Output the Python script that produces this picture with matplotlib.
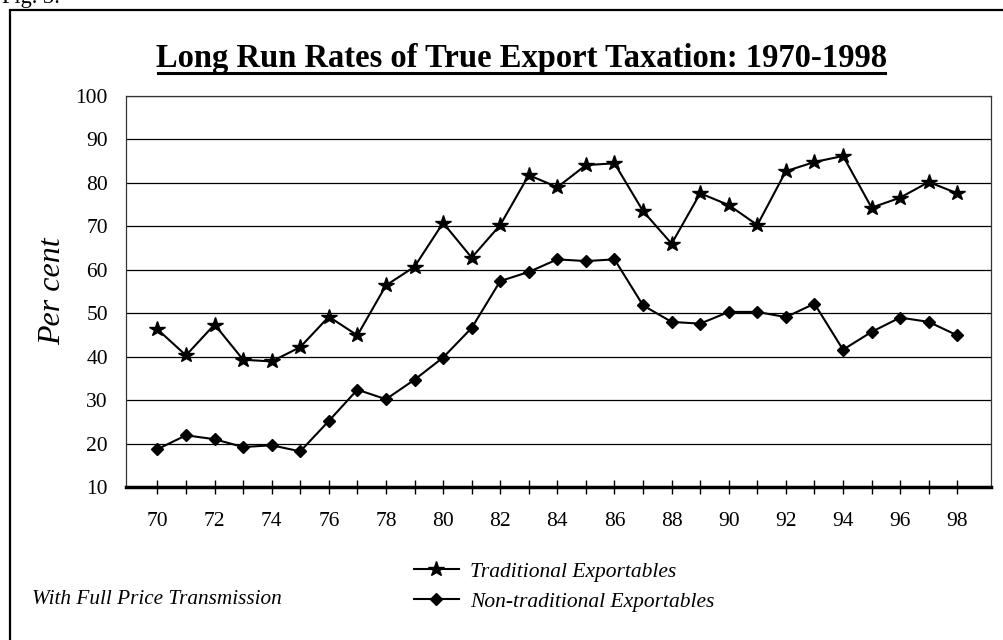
import numpy as np
import matplotlib.pyplot as plt
from matplotlib.patches import Rectangle
from matplotlib.lines import Line2D

# years 1970-1998 (two-digit labels as on the chart)
years = np.arange(70, 99)
traditional = [46.3, 40.3, 47.4, 39.3, 38.9, 42.2, 49.2, 44.9, 56.4, 60.7,
               70.8, 62.8, 70.3, 81.8, 79.0, 84.1, 84.5, 73.5, 66.0, 77.6,
               74.9, 70.3, 82.7, 84.8, 86.2, 74.3, 76.6, 80.2, 77.6]
non_traditional = [18.7, 21.9, 21.0, 19.2, 19.6, 18.2, 25.2, 32.4, 30.2, 34.7,
                   39.8, 46.6, 57.4, 59.5, 62.4, 62.0, 62.4, 51.8, 48.0, 47.6,
                   50.3, 50.3, 49.1, 52.2, 41.6, 45.7, 49.0, 48.0, 44.9]
yticks = np.arange(10, 101, 10)

plt.rcParams['font.family'] = ['Liberation Serif', 'DejaVu Serif']

W, H = 1004, 640
fig = plt.figure(figsize=(W / 100, H / 100), dpi=100)

# outer frame (left and top edges visible, rest runs off the page)
fig.patches.append(Rectangle((10 / W, -0.1), 1.2, 1 - 10 / H + 0.1,
                             transform=fig.transFigure, fill=False,
                             edgecolor='black', linewidth=1.6))
fig.text(2 / W, 1 - 3 / H, 'Fig. 3:', fontsize=16, ha='left', va='baseline')

ax = fig.add_axes([126 / W, 1 - 487 / H, (991 - 126) / W, (487 - 96) / H])

ax.plot(years, traditional, color='black', lw=1.5, marker='*', ms=11.5,
        label='Traditional Exportables')
ax.plot(years, non_traditional, color='black', lw=1.5, marker='D', ms=6.3,
        label='Non-traditional Exportables')

ax.set_xlim(68.9, 99.18)
ax.set_ylim(10, 100)
ax.set_yticks(yticks)
ax.set_xticks(years)
ax.set_xticklabels([str(y) if y % 2 == 0 else '' for y in years])
ax.tick_params(axis='y', length=0, pad=13, labelsize=15.5)
ax.tick_params(axis='x', direction='inout', length=10, width=1, pad=13, labelsize=15.5)
ax.yaxis.grid(True, color='black', lw=0.9)
ax.set_axisbelow(True)
for s in ['top', 'right', 'left']:
    ax.spines[s].set_linewidth(0.9)
    ax.spines[s].set_color('#333333')
ax.spines['bottom'].set_linewidth(2.5)

ax.set_ylabel('Per cent', fontsize=23, style='italic', labelpad=6)

fig.text(521.5 / W, 1 - 66.7 / H, 'Long Run Rates of True Export Taxation: 1970-1998',
         fontsize=23.5, fontweight='bold', ha='center', va='baseline')
fig.add_artist(Line2D([158 / W, 885 / W], [1 - 72.5 / H, 1 - 72.5 / H], color='black', lw=2.2))

# legend below the plot
handles = ax.get_lines()
fig.legend(handles, [h.get_label() for h in handles], loc='center left',
           bbox_to_anchor=(395 / W, 1 - 586.5 / H), frameon=False,
           prop={'style': 'italic', 'size': 15.5}, handlelength=2.05,
           handletextpad=0.55, labelspacing=0.46)

fig.text(32 / W, 1 - 600 / H, 'With Full Price Transmission', fontsize=15.3,
         style='italic', ha='left', va='center')

fig.savefig('out.png', dpi=100)
